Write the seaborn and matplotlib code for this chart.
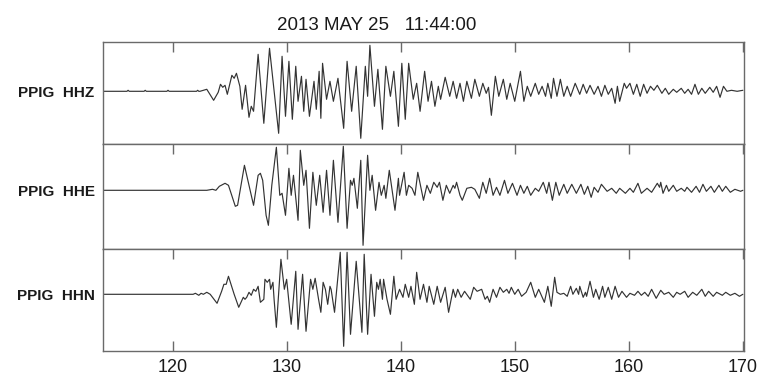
import matplotlib
matplotlib.use("Agg")
import matplotlib.pyplot as plt
import seaborn as sns
import pandas as pd

# ---- data (amplitudes in arbitrary units, + = up) ----
title = "2013 MAY 25   11:44:00"
channels = ["PPIG  HHZ", "PPIG  HHE", "PPIG  HHN"]
x_ticks = [120, 130, 140, 150, 160, 170]

hhz_t = [114.0, 116.0, 116.1, 116.2, 117.5, 117.6, 117.7, 119.5, 119.6, 119.7, 122.1, 122.2, 122.3,
         122.4, 123.0, 123.6, 124.0, 124.2, 124.4, 124.6, 124.8, 125.2, 125.4, 125.6, 125.9, 126.1,
         126.4, 126.7, 126.9, 127.1, 127.5, 128.0, 128.5, 129.3, 129.6, 129.9, 130.2, 130.5, 130.8,
         131.0, 131.3, 131.5, 131.7, 132.0, 132.4, 132.6, 132.85, 133.0, 133.15, 133.5, 133.8, 134.1,
         134.5, 135.0, 135.3, 135.7, 136.1, 136.5, 136.9, 137.1, 137.3, 137.7, 138.0, 138.4, 138.7,
         139.1, 139.4, 139.8, 140.1, 140.4, 140.7, 141.1, 141.4, 141.7, 142.1, 142.4, 142.7, 143.0,
         143.3, 143.5, 143.9, 144.3, 144.6, 144.9, 145.2, 145.5, 145.8, 146.2, 146.5, 146.9, 147.2,
         147.5, 147.7, 147.95, 148.3, 148.6, 149.0, 149.3, 149.6, 150.0, 150.5, 150.8, 151.1, 151.4,
         151.8, 152.1, 152.4, 152.7, 152.9, 153.2, 153.4, 153.7, 154.0, 154.3, 154.6, 154.9, 155.3,
         155.7, 156.0, 156.3, 156.6, 156.96, 157.3, 157.6, 157.9, 158.2, 158.5, 158.8, 159.0, 159.2,
         159.6, 159.8, 160.1, 160.4, 160.7, 161.0, 161.3, 161.6, 161.9, 162.2, 162.5, 162.9, 163.2,
         163.5, 163.9, 164.2, 164.6, 164.9, 165.2, 165.5, 165.8, 166.1, 166.4, 166.7, 167.1, 167.4,
         167.7, 168.0, 168.3, 168.6, 169.0, 169.5, 170.0]
hhz_a = [0, 0, 1, 0, 0, 1, 0, 0, 1, 0, 0, 1, 0,
         0, 2, -9, -1, 7, 4, 6, -3, 16, 13, 18, 5, -18,
         6, -26, -15, -20, 37, -32, 43, -42, 35, -25, 30, -28, 25,
         -10, 15, -20, 12, -25, 10, -18, 20, -27, 28, -8, 10, -10,
         13, -37, 30, -20, 25, -47, 25, -5, 46, -15, 22, -38, 25,
         -5, 20, -35, 28, -28, 28, -8, 8, -20, 20, -10, 10, -15,
         5, -8, 14, -5, 10, -7, 8, -10, 10, -7, 12, -5, 8,
         -2, 4, -24, 15, -5, 12, -8, 8, -10, 20, -10, 5, -5,
         8, -3, 5, -5, 8, -7, 13, -5, 12, -5, 5, -5, 8,
         -3, 7, -2, 6, -3, 5, -5, 6, -3, 3, -12, 5, -10,
         8, 3, 8, -3, 7, -5, 7, -2, 5, 1, 6, -2, 3,
         -3, 2, -1, 3, -2, 2, -3, 7, -3, 3, -2, 4, -1,
         5, -6, 5, 0, 1, 0, 1]

hhe_t = [114.0, 123.0, 123.5, 123.8, 124.1, 124.6, 124.9, 125.5, 125.7, 126.3, 126.6, 127.1, 127.5,
         127.7, 127.9, 128.2, 128.4, 128.7, 129.1, 129.4, 129.6, 129.9, 130.2, 130.4, 130.6, 131.0,
         131.2, 131.5, 131.7, 132.0, 132.3, 132.6, 132.9, 133.2, 133.5, 133.8, 134.1, 134.5, 134.97,
         135.3, 135.6, 135.75, 135.9, 136.2, 136.5, 136.7, 137.1, 137.3, 137.5, 137.8, 138.1, 138.3,
         138.55, 138.7, 139.0, 139.5, 139.8, 139.9, 140.3, 140.5, 140.7, 141.0, 141.25, 141.5, 142.0,
         142.3, 142.6, 142.9, 143.2, 143.4, 143.7, 144.0, 144.3, 144.6, 144.75, 144.9, 145.2, 145.4,
         145.8, 146.2, 146.5, 146.9, 147.2, 147.5, 147.8, 148.1, 148.4, 148.7, 149.1, 149.4, 149.8,
         150.2, 150.5, 150.8, 151.1, 151.4, 151.8, 152.1, 152.5, 152.8, 153.0, 153.3, 153.6, 153.9,
         154.3, 154.6, 155.0, 155.4, 155.8, 156.1, 156.4, 156.7, 156.96, 157.3, 157.6, 158.1, 158.5,
         158.9, 159.2, 159.7, 160.1, 160.4, 160.8, 161.1, 161.6, 162.0, 162.5, 162.7, 162.8, 163.0,
         163.3, 163.5, 163.9, 164.2, 164.6, 164.9, 165.1, 165.5, 165.9, 166.2, 166.5, 166.8, 167.2,
         167.5, 167.9, 168.2, 168.5, 168.9, 169.3, 169.8, 170.0]
hhe_a = [0, 0, 1, 0, 4, 7, 5, -16, -15, 25, 10, -15, 15,
         17, 10, -25, -35, 5, 43, -5, -3, -25, 22, -5, 15, -30,
         40, 5, 20, -38, 18, -15, 15, -22, 20, -25, 30, -32, 44,
         -38, 10, 5, 12, -18, 30, -55, 35, 0, 15, -20, 8, -5,
         5, -8, 20, -20, 12, -5, 18, -5, 5, 2, -5, 18, -10,
         5, -3, 8, 3, 8, -10, 5, -3, 5, 2, 8, -5, -10,
         2, 3, 1, -8, 8, -3, 12, -5, 3, -5, 10, -3, 7,
         -5, 5, -3, 4, -5, 2, -1, 8, -3, 8, -10, 8, -5,
         6, -3, 6, -3, 6, -4, 4, -7, 3, -2, 6, -1, 2,
         -3, 2, -3, 2, -2, 7, -3, 2, -2, 7, 3, 8, -3,
         5, -1, 5, -1, 2, -1, 3, -2, 4, -2, 6, -1, 4,
         -2, 5, -1, 4, -2, 1, -1, 0]

hhn_t = [114.0, 121.8, 122.0, 122.3, 122.5, 122.7, 123.0, 123.3, 123.9, 124.3, 124.5, 124.7, 124.9,
         125.4, 125.8, 126.2, 126.35, 126.5, 126.7, 126.9, 127.1, 127.3, 127.5, 127.7, 128.0, 128.1,
         128.3, 128.5, 128.6, 128.8, 128.9, 129.1, 129.5, 129.8, 130.0, 130.4, 130.8, 131.0, 131.4,
         131.7, 132.1, 132.3, 132.5, 132.8, 133.0, 133.2, 133.4, 133.6, 133.8, 133.9, 134.2, 134.7,
         135.0, 135.3, 135.6, 136.1, 136.6, 136.8, 137.1, 137.4, 137.7, 137.9, 138.05, 138.2, 138.4,
         138.5, 138.8, 139.1, 139.4, 139.6, 139.9, 140.2, 140.4, 140.7, 140.9, 141.2, 141.4, 141.7,
         142.0, 142.3, 142.5, 142.9, 143.2, 143.5, 143.9, 144.2, 144.6, 144.8, 145.0, 145.3, 145.6,
         146.1, 146.4, 146.7, 147.1, 147.4, 147.6, 147.8, 148.1, 148.4, 148.7, 149.0, 149.3, 149.5,
         149.7, 150.0, 150.3, 150.6, 151.0, 151.4, 151.8, 152.1, 152.6, 152.9, 153.2, 153.5, 153.7,
         154.0, 154.3, 154.6, 154.9, 155.1, 155.4, 155.6, 155.7, 156.0, 156.2, 156.3, 156.6, 156.9,
         157.1, 157.4, 157.7, 157.9, 158.2, 158.5, 158.8, 159.1, 159.4, 159.8, 160.1, 160.5, 160.8,
         161.1, 161.4, 161.7, 162.0, 162.4, 162.8, 163.1, 163.5, 163.9, 164.2, 164.5, 164.9, 165.2,
         165.6, 165.96, 166.4, 166.7, 167.0, 167.4, 167.7, 168.2, 168.5, 168.9, 169.3, 169.7, 170.0]
hhn_a = [0, 0, 1, -1, 1, 0, 2, 0, -9, 3, 10, 10, 18,
         0, -13, -3, -5, -3, 2, -1, 5, 3, 8, -8, -5, 15,
         12, 15, 5, 12, -5, -33, 35, 5, 15, -30, 23, -35, 20,
         -37, 15, 5, 16, -5, -18, 12, 5, -10, 8, 5, -18, 42,
         -52, 42, -40, 33, -38, 40, -40, 20, -22, 12, 5, 15, -5,
         15, -5, -20, 18, -5, 5, -3, 10, -3, 8, -10, 22, -5,
         10, -8, 8, -10, 8, -8, 7, -18, 5, -3, 5, -3, 3,
         -5, 7, 3, 5, -5, -2, -8, 5, -3, 7, 2, 5, 1,
         7, 0, 5, -2, 2, 12, -3, 5, -8, 8, -12, 17, 2,
         0, 1, -2, 8, 0, 6, 0, 8, -3, 2, -2, 13, -3,
         5, -5, 8, -3, 7, -5, 8, -3, 3, -3, 1, -1, 3,
         -1, 2, -2, 5, -4, 4, 0, 2, -3, 2, 0, 3, -3,
         2, -1, 5, -2, 3, -2, 2, -1, 2, -1, 1, -2, 0]

traces = [(hhz_t, hhz_a), (hhe_t, hhe_a), (hhn_t, hhn_a)]

# ---- styling ----
sns.set_theme(style="white")
plt.rcParams["font.family"] = ["Liberation Sans", "DejaVu Sans"]

W, H = 772, 388
fig = plt.figure(figsize=(W / 100, H / 100), dpi=100)

left_px, right_px = 103, 744
panel_px = [(42, 144), (144, 249), (249, 351)]
base_px = [91.3, 190.3, 294.3]
line_col = "#333333"
spine_col = "#6a6a6a"

for i, ((tt, aa), (top, bot), base, name) in enumerate(zip(traces, panel_px, base_px, channels)):
    ax = fig.add_axes([left_px / W, 1 - bot / H, (right_px - left_px) / W, (bot - top) / H])
    df = pd.DataFrame({"t": tt, "a": aa})
    sns.lineplot(data=df, x="t", y="a", ax=ax, color=line_col, linewidth=0.85,
                 sort=False, estimator=None)
    ax.set_xlim(113.9, 170.1)
    ax.set_ylim(-(bot - base), base - top)
    ax.set_xlabel("")
    ax.set_ylabel("")
    ax.set_yticks([0])
    ax.set_yticklabels([name], fontsize=11, fontweight="bold", color="#1a1a1a")
    ax.tick_params(axis="y", direction="out", length=2.5, width=0.8, color=spine_col, pad=3.5)
    ax.set_xticks(x_ticks)
    last = (i == len(traces) - 1)
    ax.tick_params(axis="x", direction="in", length=7, width=1.0, color=spine_col,
                   top=True, bottom=last, labelbottom=last, labelsize=13, pad=6,
                   labelcolor="#1a1a1a")
    for s in ax.spines.values():
        s.set_color(spine_col)
        s.set_linewidth(1.0)

fig.text(377 / W, 1 - 25 / H, title, fontsize=13.5, color="#1a1a1a", ha="center", va="center")

fig.savefig("out.png", dpi=100)
